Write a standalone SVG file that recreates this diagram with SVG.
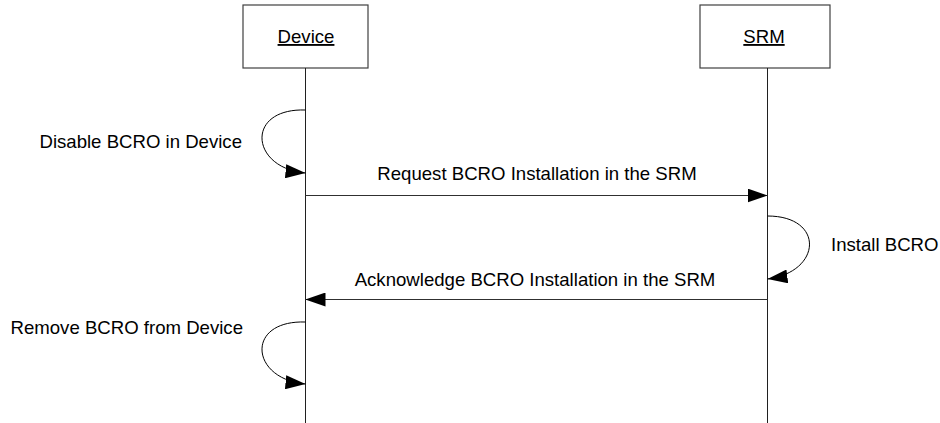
<svg xmlns="http://www.w3.org/2000/svg" width="940" height="423" viewBox="0 0 940 423">
<style>
  .box { fill: #ffffff; stroke: #404040; stroke-width: 1.2; }
  .life { stroke: #202020; stroke-width: 1; fill: none; }
  .msg { stroke: #303030; stroke-width: 1; fill: none; }
  .loop { stroke: #000000; stroke-width: 1; fill: none; }
  text { font-family: "Liberation Sans", Arial, sans-serif; font-size: 18.6px; fill: #000000; }
  .title { text-decoration: underline; text-anchor: middle; }
</style>
<defs>
  <marker id="arr" markerWidth="20" markerHeight="14" refX="20" refY="7" orient="auto" markerUnits="userSpaceOnUse">
    <path d="M0,0 L20,7 L0,14 Z" fill="#000000"/>
  </marker>
</defs>
<g id="device">
  <rect class="box" x="243" y="5" width="125" height="63"/>
  <text class="title" x="306" y="43">Device</text>
  <line class="life" x1="305.5" y1="68" x2="305.5" y2="423"/>
</g>
<g id="srm">
  <rect class="box" x="700" y="5" width="130" height="63"/>
  <text class="title" x="764" y="43">SRM</text>
  <line class="life" x1="767.5" y1="68" x2="767.5" y2="423"/>
</g>
<g id="connectors">
  <path class="loop" d="M305.5,110 C245,108 250,168 305.5,173" marker-end="url(#arr)"/>
  <line class="msg" x1="305.5" y1="195.5" x2="767.5" y2="195.5" marker-end="url(#arr)"/>
  <path class="loop" d="M767.5,216 C825,216 822,272 767.5,279" marker-end="url(#arr)"/>
  <line class="msg" x1="767.5" y1="299.5" x2="305.5" y2="299.5" marker-end="url(#arr)"/>
  <path class="loop" d="M305.5,322 C245,320 250,379 305.5,384" marker-end="url(#arr)"/>
</g>
<g id="labels">
  <text x="242" y="148" text-anchor="end">Disable BCRO in Device</text>
  <text x="537" y="180" text-anchor="middle">Request BCRO Installation in the SRM</text>
  <text x="831" y="251">Install BCRO</text>
  <text x="535" y="286" text-anchor="middle">Acknowledge BCRO Installation in the SRM</text>
  <text x="243" y="334" text-anchor="end">Remove BCRO from Device</text>
</g>
</svg>
